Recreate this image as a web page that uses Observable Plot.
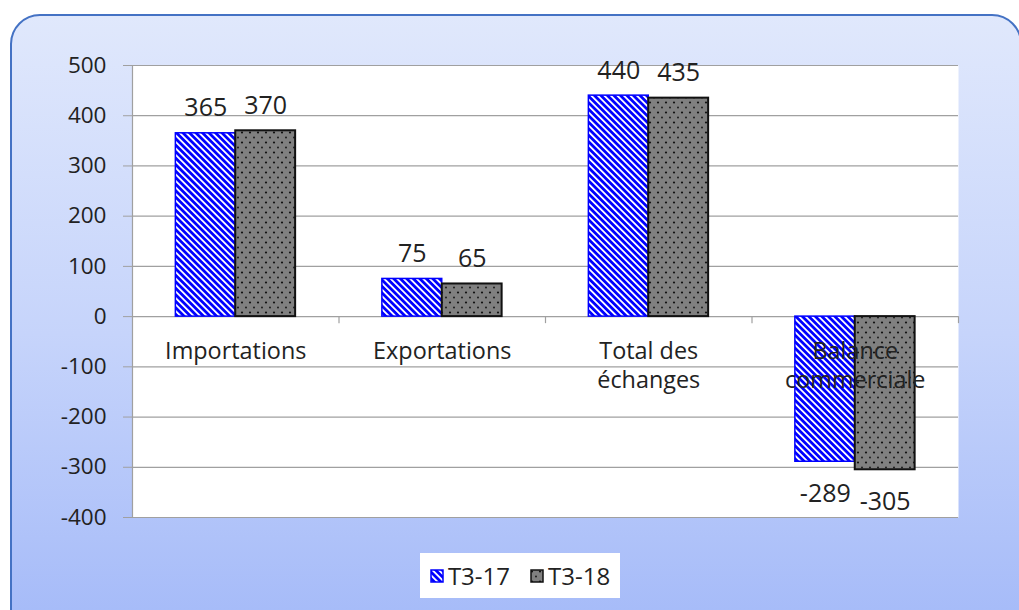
<!DOCTYPE html>
<html>
<head>
<meta charset="utf-8">
<script src="https://cdn.jsdelivr.net/npm/d3@7"></script>
<script src="https://cdn.jsdelivr.net/npm/@observablehq/plot@0.6"></script>
<style>
  html, body { margin: 0; padding: 0; background: #fff; overflow: hidden; }
  #wrap { position: relative; width: 1019px; height: 610px; overflow: hidden; font-family: "Open Sans", sans-serif; }
  #panel { position: absolute; left: 10px; top: 14px; width: 1012px; height: 640px; box-sizing: border-box;
           border: 2.5px solid #4472c4; border-radius: 30px;
           background: linear-gradient(to bottom, #e0e8fc 0%, #c6d4fb 50%, #a2b8f8 100%); }
  #chart { position: absolute; left: 0; top: 0; }
  #chart svg { background: transparent !important; }
  #chart svg [aria-label^="y-axis"] line,
  #chart svg [aria-label^="y-axis"] path { stroke: #a0a0a0; }
  #chart svg text { fill: #222; }
  #legend { position: absolute; left: 420px; top: 553px; width: 200px; height: 45px; background: #fff;
            display: flex; align-items: center; justify-content: center; gap: 20px;
            font-size: 24px; color: #222; }
  .item { display: flex; align-items: center; gap: 4px; }
</style>
</head>
<body>
<svg width="0" height="0" style="position:absolute">
  <defs>
    <pattern id="hatch" patternUnits="userSpaceOnUse" width="4.6" height="4.6" patternTransform="rotate(-45)">
      <rect width="4.6" height="4.6" fill="#0000ff"></rect>
      <rect x="0" y="0" width="1.8" height="4.6" fill="#ffffff"></rect>
    </pattern>
    <pattern id="dots" patternUnits="userSpaceOnUse" width="8" height="10">
      <rect width="8" height="10" fill="#808080"></rect>
      <circle cx="2" cy="2.5" r="1.1" fill="#111"></circle>
      <circle cx="6" cy="7.5" r="0.9" fill="#111"></circle>
    </pattern>
  </defs>
</svg>
<div id="wrap">
  <div id="panel"></div>
  <div id="chart"></div>
  <div id="legend"></div>
</div>
<script>
const categories = ["Importations", "Exportations", "Total des\néchanges", "Balance\ncommerciale"];
const series = ["T3-17", "T3-18"];
const valuesT317 = [365, 75, 440, -289];
const valuesT318 = [370, 65, 435, -305];
const yTicks = [500, 400, 300, 200, 100, 0, -100, -200, -300, -400];

const fills = ["url(#hatch)", "url(#dots)"];
const strokes = ["#0000ff", "#111111"];

const data = [];
categories.forEach((c, i) => {
  data.push({cat: c, i, series: series[0], s: 0, value: valuesT317[i]});
  data.push({cat: c, i, series: series[1], s: 1, value: valuesT318[i]});
});
// bar extents within each category slot (group occupies central part of the slot)
const groupHalf = 0.29;
data.forEach(d => {
  d.x1 = d.s === 0 ? d.i + 0.5 - groupHalf : d.i + 0.5;
  d.x2 = d.s === 0 ? d.i + 0.5 : d.i + 0.5 + groupHalf;
  d.xc = (d.x1 + d.x2) / 2;
});
const catData = categories.map((c, i) => ({cat: c, x: i + 0.5}));

const tickFont = 22.5, valueFont = 25, catFont = 23.4;
const plot = Plot.plot({
  width: 1019,
  height: 545,
  marginLeft: 132,
  marginRight: 61,
  marginTop: 65,
  marginBottom: 28,
  style: {background: "transparent", fontFamily: "'Open Sans', sans-serif", fontSize: tickFont + "px", overflow: "visible"},
  x: {domain: [0, categories.length], axis: null},
  y: {domain: [-400, 500], ticks: yTicks, tickSize: 9, tickPadding: 17, tickFormat: d => String(d), label: null},
  color: {type: "ordinal", domain: series, range: fills},
  marks: [
    Plot.frame({fill: "white", stroke: "none"}),
    Plot.ruleY(yTicks, {stroke: "#a0a0a0", strokeWidth: 1.2}),
    Plot.ruleX([0], {stroke: "#a0a0a0", strokeWidth: 1.2}),
    Plot.ruleX(d3.range(1, categories.length + 1), {y1: 0, y2: -14, stroke: "#a0a0a0", strokeWidth: 1.2}),
    Plot.rectY(data.filter(d => d.s === 0), {x1: "x1", x2: "x2", y1: 0, y2: "value", fill: "series", stroke: strokes[0], strokeWidth: 1.5}),
    Plot.rectY(data.filter(d => d.s === 1), {x1: "x1", x2: "x2", y1: 0, y2: "value", fill: "series", stroke: strokes[1], strokeWidth: 2}),
    Plot.text(data.filter(d => d.value >= 0), {x: "xc", y: "value", text: d => String(d.value), lineAnchor: "bottom", dy: -17, fontSize: valueFont, fill: "#222"}),
    Plot.text(data.filter(d => d.value < 0), {x: "xc", y: "value", text: d => String(d.value), lineAnchor: "top", dy: 22, fontSize: valueFont, fill: "#222"}),
    Plot.text(catData, {x: "x", y: () => 0, text: "cat", lineAnchor: "top", dy: 21, lineHeight: 1.27, fontSize: catFont, fill: "#222"})
  ]
});
document.getElementById("chart").appendChild(plot);

// legend
const legend = document.getElementById("legend");
series.forEach((s, k) => {
  const item = document.createElement("div");
  item.className = "item";
  item.innerHTML = `<svg width="14" height="14"><rect x="1" y="1" width="12" height="12" fill="${fills[k]}" stroke="${strokes[k]}" stroke-width="1.5"></rect></svg><span>${s}</span>`;
  legend.appendChild(item);
});
</script>
</body>
</html>
